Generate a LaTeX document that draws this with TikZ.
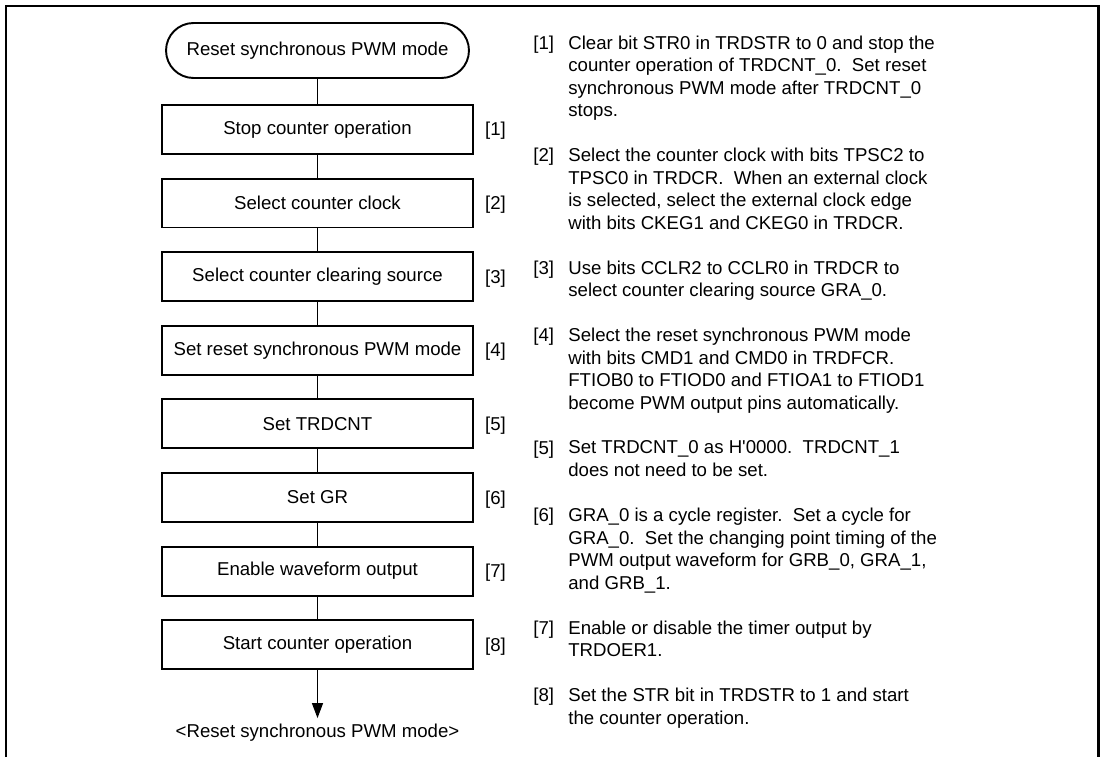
\documentclass[tikz,border=0pt]{standalone}
\usepackage{fontspec}
\setmainfont{Liberation Sans}
\usetikzlibrary{arrows.meta,positioning}

\begin{document}
\begin{tikzpicture}[x=0.02cm,y=-0.02cm,font=\fontsize{10.6pt}{12.8pt}\selectfont,
  bx/.style={draw,line width=1.1pt,minimum width=6.22cm,minimum height=0.98cm,inner sep=2pt},
  term/.style={bx,minimum width=6.06cm,minimum height=1.1cm,rounded corners=0.55cm},
  ln/.style={line width=0.7pt},
  arr/.style={ln,-{Triangle[length=0.3cm,width=0.22cm]}},
  nr/.style={inner sep=0pt,anchor=north west},
  txt/.style={inner sep=0pt,anchor=north west,align=left},
  node distance=0.454cm]
  \useasboundingbox (0,0) rectangle (1104,757);
  \draw[line width=1.7pt] (6,757) -- (6,6) -- (1098,6) -- (1098,757);
  \node[term] (start) at (317.5,50.5) {Reset synchronous PWM mode};
  \node[bx,below=0.5cm of start] (a) {Stop counter operation};
  \node[bx,below=of a] (b) {Select counter clock};
  \node[bx,below=of b] (c) {Select counter clearing source};
  \node[bx,below=of c] (d) {Set reset synchronous PWM mode};
  \node[bx,below=of d] (e) {Set TRDCNT};
  \node[bx,below=of e] (f) {Set GR};
  \node[bx,below=of f] (g) {Enable waveform output};
  \node[bx,below=of g] (h) {Start counter operation};
  \node (stop) at (317.5,733) {<Reset synchronous PWM mode>};
  \draw[ln](start)--(a);\draw[ln](a)--(b);\draw[ln](b)--(c);\draw[ln](c)--(d);
  \draw[ln](d)--(e);\draw[ln](e)--(f);\draw[ln](f)--(g);\draw[ln](g)--(h);
  \draw[arr](h)--(stop.north);
  \node[right=1mm of a,yshift=-1pt] (la) {[1]};
  \node[right=1mm of b,yshift=-1pt] (lb) {[2]};
  \node[right=1mm of c,yshift=-1pt] (lc) {[3]};
  \node[right=1mm of d,yshift=-1pt] (ld) {[4]};
  \node[right=1mm of e,yshift=-1pt] (le) {[5]};
  \node[right=1mm of f,yshift=-1pt] (lf) {[6]};
  \node[right=1mm of g,yshift=-1pt] (lg) {[7]};
  \node[right=1mm of h,yshift=-1pt] (lh) {[8]};
  \node[nr] (n1) at (533,35.4) {[1]};
  \node[txt] (t1) at (568,35.4) {Clear bit STR0 in TRDSTR to 0 and stop the\\counter operation of TRDCNT\_0.\ \ Set reset\\synchronous PWM mode after TRDCNT\_0\\stops.};
  \node[nr] (n2) at (533,147.9) {[2]};
  \node[txt] (t2) at (568,147.9) {Select the counter clock with bits TPSC2 to\\TPSC0 in TRDCR.\ \ When an external clock\\is selected, select the external clock edge\\with bits CKEG1 and CKEG0 in TRDCR.};
  \node[nr] (n3) at (533,260.4) {[3]};
  \node[txt] (t3) at (568,260.4) {Use bits CCLR2 to CCLR0 in TRDCR to\\select counter clearing source GRA\_0.};
  \node[nr] (n4) at (533,327.9) {[4]};
  \node[txt] (t4) at (568,327.9) {Select the reset synchronous PWM mode\\with bits CMD1 and CMD0 in TRDFCR.\\FTIOB0 to FTIOD0 and FTIOA1 to FTIOD1\\become PWM output pins automatically.};
  \node[nr] (n5) at (533,440.4) {[5]};
  \node[txt] (t5) at (568,440.4) {Set TRDCNT\_0 as H\textquotesingle 0000.\ \ TRDCNT\_1\\does not need to be set.};
  \node[nr] (n6) at (533,507.9) {[6]};
  \node[txt] (t6) at (568,507.9) {GRA\_0 is a cycle register.\ \ Set a cycle for\\GRA\_0.\ \ Set the changing point timing of the\\PWM output waveform for GRB\_0, GRA\_1,\\and GRB\_1.};
  \node[nr] (n7) at (533,620.4) {[7]};
  \node[txt] (t7) at (568,620.4) {Enable or disable the timer output by\\TRDOER1.};
  \node[nr] (n8) at (533,687.9) {[8]};
  \node[txt] (t8) at (568,687.9) {Set the STR bit in TRDSTR to 1 and start\\the counter operation.};
\end{tikzpicture}
\end{document}
